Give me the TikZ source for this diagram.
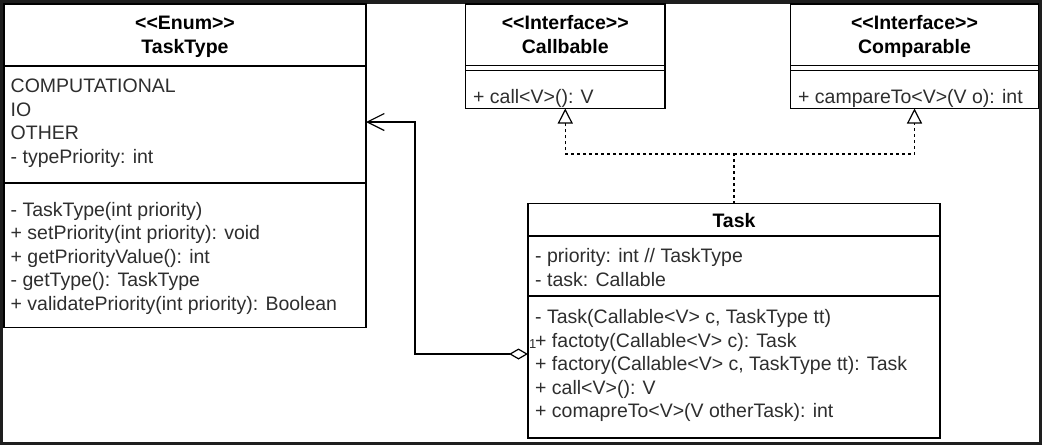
\documentclass[tikz,border=0pt]{standalone}
\usepackage{fontspec}
\setmainfont{Liberation Sans}[Ligatures=TeXOff]
\usetikzlibrary{arrows.meta}
\definecolor{framec}{HTML}{1E1E1E}
\definecolor{inkc}{HTML}{2E2E2E}
\begin{document}
\begin{tikzpicture}[x=1pt,y=-1pt,
  box/.style={draw=black, line width=1.2pt, fill=white, anchor=north west, inner sep=0pt, outer sep=0pt},
  txt/.style={anchor=base west, inner sep=0pt, text=inkc, font=\fontsize{19.5}{23.5}\selectfont},
  hdr/.style={anchor=base, inner sep=0pt, text=black, font=\fontsize{19.5}{23.5}\selectfont\bfseries},
  divider/.style={line width=1.2pt},
  assoc/.style={line width=1.2pt, {Diamond[open,length=19pt,width=11pt]}-{Straight Barb[length=17pt,width=17pt]}},
  realize/.style={line width=1.2pt, dash pattern=on 3pt off 3pt, -{Triangle[open,length=15pt,width=15pt]}},
]
\useasboundingbox (0,0) rectangle (1042,445);
\fill[framec] (0,0) rectangle (1042,445);
\fill[white] (3,4) rectangle (1039,442);

% ---------- TaskType ----------
\node[box, minimum width=362pt, minimum height=323.5pt] (tt) at (4,4) {};
\draw[divider] (tt.west |- 0,66) -- (tt.east |- 0,66);
\draw[divider] (tt.west |- 0,183) -- (tt.east |- 0,183);
\node[hdr] (ttst) at (185,29.5) {<<Enum>>};
\node[hdr] (ttname) at (185,53) {TaskType};
\node[txt] (tta1) at (10.5,92.5) {COMPUTATIONAL};
\node[txt] (tta2) at (10.5,116) {IO};
\node[txt] (tta3) at (10.5,139.5) {OTHER};
\node[txt] (tta4) at (10.5,163) {- typePriority: int};
\node[txt] (ttm1) at (10.5,216) {- TaskType(int priority)};
\node[txt] (ttm2) at (10.5,239.5) {+ setPriority(int priority): void};
\node[txt] (ttm3) at (10.5,263) {+ getPriorityValue(): int};
\node[txt] (ttm4) at (10.5,286.5) {- getType(): TaskType};
\node[txt] (ttm5) at (10.5,310) {+ validatePriority(int priority): Boolean};

% ---------- Callbable ----------
\node[box, minimum width=199.5pt, minimum height=104.5pt] (callb) at (465.5,4) {};
\draw[divider] (callb.west |- 0,65.7) -- (callb.east |- 0,65.7);
\draw[divider] (callb.west |- 0,70.3) -- (callb.east |- 0,70.3);
\node[hdr] (cbst) at (565.25,29) {<<Interface>>};
\node[hdr] (cbname) at (565.25,53) {Callbable};
\node[txt] (cbm1) at (473,103) {+ call<V>(): V};

% ---------- Comparable ----------
\node[box, minimum width=248pt, minimum height=104.5pt] (comp) at (790.5,4) {};
\draw[divider] (comp.west |- 0,65.7) -- (comp.east |- 0,65.7);
\draw[divider] (comp.west |- 0,70.3) -- (comp.east |- 0,70.3);
\node[hdr] (cpst) at (914.5,29) {<<Interface>>};
\node[hdr] (cpname) at (914.5,53) {Comparable};
\node[txt] (cpm1) at (798,103) {+ campareTo<V>(V o): int};

% ---------- Task ----------
\node[box, minimum width=412pt, minimum height=234.5pt] (task) at (528,203.5) {};
\draw[divider] (task.west |- 0,236) -- (task.east |- 0,236);
\draw[divider] (task.west |- 0,296) -- (task.east |- 0,296);
\node[hdr] (tkname) at (734,227) {Task};
\node[txt] (tka1) at (535,262.5) {- priority: int // TaskType};
\node[txt] (tka2) at (535,286) {- task: Callable};
\node[txt] (tkm1) at (535,323.5) {- Task(Callable<V> c, TaskType tt)};
\node[txt] (tkm2) at (535,347) {+ factoty(Callable<V> c): Task};
\node[txt] (tkm3) at (535,370.5) {+ factory(Callable<V> c, TaskType tt): Task};
\node[txt] (tkm4) at (535,394) {+ call<V>(): V};
\node[txt] (tkm5) at (535,417.5) {+ comapreTo<V>(V otherTask): int};

% ---------- connectors ----------
\coordinate (abend1) at (415,354);
\coordinate (abend2) at (415,122);
\draw[assoc] (task.west |- abend1) -- (abend1) -- (abend2) -- (tt.east |- abend2);
\node[anchor=base west, inner sep=0pt, text=inkc, font=\fontsize{13}{15}\selectfont] (mult) at (529,348) {1};

\coordinate (junc) at (734,154);
\draw[realize] (task.north) -- (junc) -| (callb.south);
\draw[realize] (junc) -| (comp.south);
\end{tikzpicture}
\end{document}
